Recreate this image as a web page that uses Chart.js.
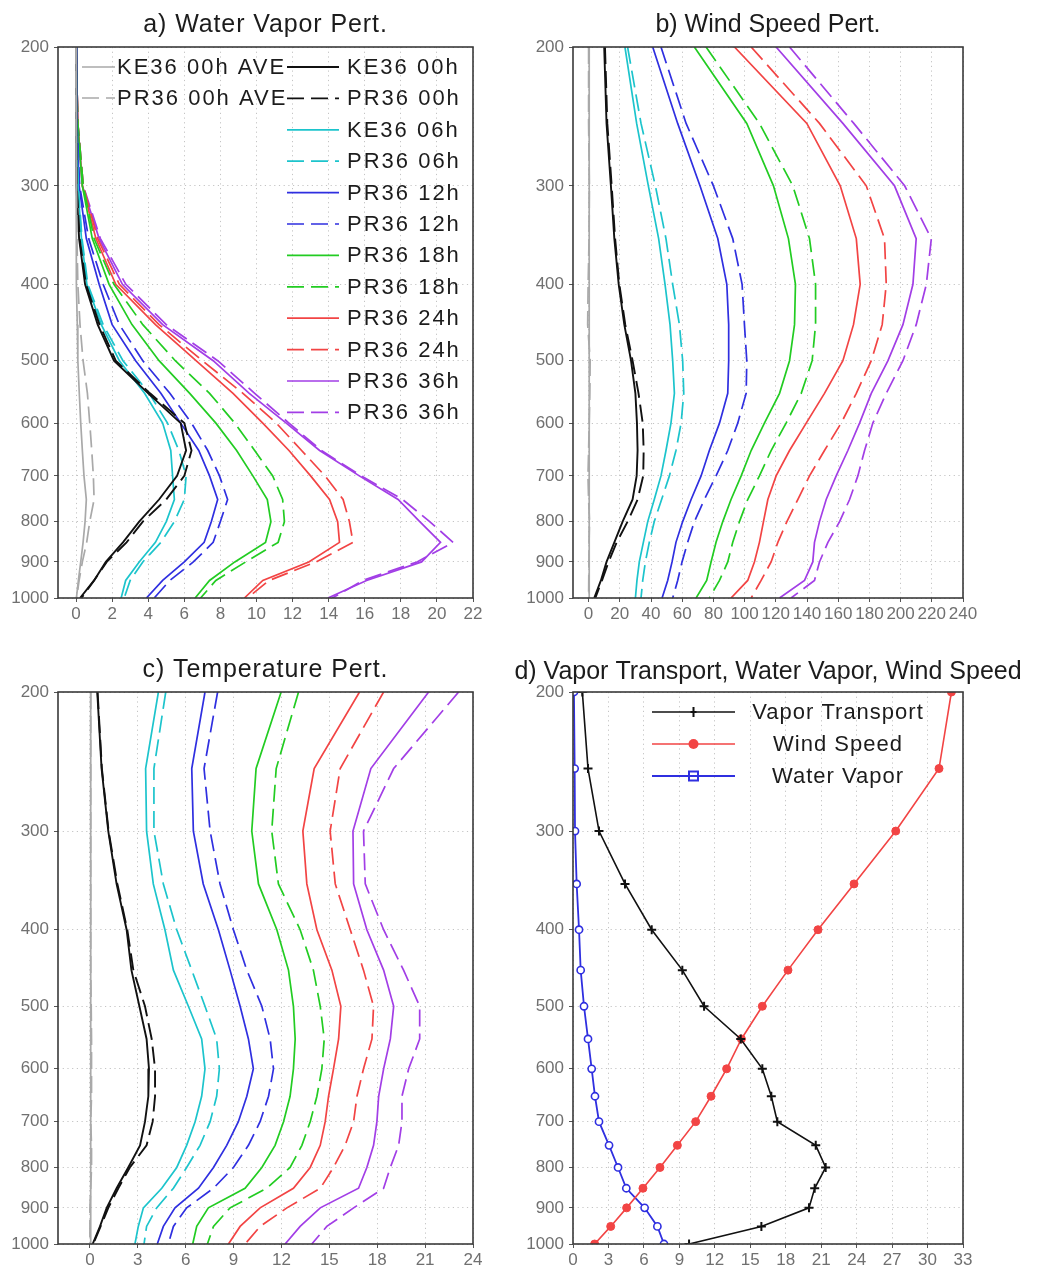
<!DOCTYPE html>
<html>
<head>
<meta charset="utf-8">
<script src="https://cdn.jsdelivr.net/npm/chart.js@4/dist/chart.umd.min.js"></script>
<style>
  html, body { margin: 0; padding: 0; background: #fff; }
  #wrap { position: relative; width: 1057px; height: 1270px; overflow: hidden; }
  canvas { position: absolute; }
</style>
</head>
<body>
<div id="wrap">
  <canvas id="cA" width="500" height="640" style="left:0px;top:0px;width:500px;height:640px"></canvas>
  <canvas id="cB" width="557" height="640" style="left:500px;top:0px;width:557px;height:640px"></canvas>
  <canvas id="cC" width="500" height="630" style="left:0px;top:640px;width:500px;height:630px"></canvas>
  <canvas id="cD" width="557" height="630" style="left:500px;top:640px;width:557px;height:630px"></canvas>
</div>
<script>
// ---------------- DATA ----------------
const levels = [200,250,300,350,400,450,500,550,600,650,700,750,800,850,900,950,1000];
const pressureTicks = [200,300,400,500,600,700,800,900,1000];
const xTicksA = [0,2,4,6,8,10,12,14,16,18,20,22];
const xTicksB = [0,20,40,60,80,100,120,140,160,180,200,220,240];
const xTicksC = [0,3,6,9,12,15,18,21,24];
const xTicksD = [0,3,6,9,12,15,18,21,24,27,30,33];

const seriesLabels = ['KE36 00h AVE','PR36 00h AVE','KE36 00h','PR36 00h','KE36 06h','PR36 06h',
  'PR36 12h','PR36 12h','PR36 18h','PR36 18h','PR36 24h','PR36 24h','PR36 36h','PR36 36h'];

// a) Water Vapor Pert.
const wvKE00ave = [0,0,0.01,0.02,0.04,0.07,0.1,0.18,0.26,0.35,0.44,0.57,0.5,0.39,0.26,0.13,0.02];
const wvPR00ave = [0,0,0.02,0.05,0.1,0.22,0.39,0.63,0.76,0.87,0.96,1.0,0.76,0.59,0.35,0.17,0.03];
const wvKE00 = [0,0.01,0.03,0.17,0.5,1.2,2.1,4.0,5.8,6.1,5.6,4.6,3.5,2.6,1.65,1.0,0.22];
const wvPR00 = [0,0.01,0.04,0.2,0.55,1.3,2.2,4.1,6.0,6.4,6.0,5.0,3.7,2.8,1.7,1.0,0.3];
const wvKE06 = [0,0.02,0.1,0.3,0.6,1.4,2.4,3.8,4.8,5.25,5.35,5.45,5.0,4.4,3.5,2.75,2.5];
const wvPR06 = [0,0.03,0.12,0.33,0.65,1.5,2.6,4.05,5.07,5.7,6.1,6.0,5.45,4.7,3.7,3.0,2.67];
const wvPR12a = [0,0.05,0.17,0.57,1.28,2.0,3.3,4.7,5.8,6.8,7.4,7.85,7.5,7.1,6.0,4.8,3.9];
const wvPR12b = [0,0.05,0.2,0.7,1.5,2.4,3.7,5.2,6.4,7.3,7.95,8.4,8.0,7.6,6.5,5.2,4.33];
const wvPR18a = [0,0.08,0.35,0.9,1.83,3.1,4.6,6.3,7.75,8.9,9.8,10.6,10.8,10.5,8.8,7.4,6.6];
const wvPR18b = [0,0.1,0.4,1.0,2.1,3.7,5.5,7.4,8.8,9.9,10.9,11.45,11.55,11.2,9.4,7.75,6.9];
const wvPR24a = [0,0.1,0.35,1.1,2.2,4.4,6.65,8.7,10.35,11.8,13.0,14.05,14.5,14.6,12.9,10.35,9.33];
const wvPR24b = [0,0.1,0.4,1.2,2.4,4.6,7.0,9.25,11.1,12.5,13.8,14.8,15.15,15.35,13.3,10.7,9.5];
const wvPR36a = [0,0.1,0.35,1.28,2.57,4.8,7.6,9.6,11.65,13.5,15.7,17.85,19.05,20.2,19.15,16.1,13.96];
const wvPR36b = [0,0.1,0.4,1.35,2.76,5.0,7.85,9.9,11.8,13.6,15.8,18.1,19.6,20.9,18.9,15.9,14.2];

// b) Wind Speed Pert.
const wsKE00ave = [0.4,0.4,0.4,0.4,0.4,0.4,0.4,0.4,0.4,0.4,0.4,0.4,0.4,0.4,0.4,0.4,0.4];
const wsPR00ave = [0,0,0.5,0.3,-0.3,-0.6,1.0,0.8,0.4,0,-0.4,0,0.6,0.3,0.2,0.1,0];
const wsKE00 = [10,11.5,14.3,16.5,19.3,22.9,27.2,30,31,31.4,30.8,28.2,21.8,16.5,11.5,7.9,3.6];
const wsPR00 = [10.5,12,14.8,17,19.7,23.5,28.2,32,34.7,35.3,35,31.4,25,18,12.8,8.6,4.3];
const wsKE06 = [23.3,30.8,38.3,44.9,49,52.2,53.9,55,52.8,49.6,46.4,42.1,37.9,35.1,32.5,31,30];
const wsPR06 = [25,33.6,42.8,49.6,53.9,58.2,60.3,61,59.3,56,51.8,46.8,42.1,38.9,36.4,34.7,33.6];
const wsPR12a = [41.1,57.1,71.4,82.8,88.6,89.8,89.8,89.2,83.9,77.4,72.1,65.7,60.3,56,53.5,50.7,47.1];
const wsPR12b = [46.4,62.5,80,92.4,98.4,99.9,101.4,101,95.6,89.2,81.7,74.2,67.8,63.5,59.9,57.1,53.9];
const wsPR18a = [67.8,101.4,118.5,128.1,132.6,132,128.8,122.4,112.7,104.2,97.8,91.3,86,81.7,78.5,75.7,68.9];
const wsPR18b = [75.3,109.5,130.9,141.6,145.5,145.5,143.3,136.3,126.6,117,109.5,102,96.7,92.4,89.2,83.9,77.4];
const wsPR24a = [93.5,139.9,161.3,171.6,174.1,169.8,163,151.2,139.5,128.8,120.2,114.9,112.1,109.5,106.3,102,91.3];
const wsPR24b = [104.2,148,178,189.7,190.8,188.2,181.2,171.6,161.9,151.2,141.6,134.1,127.1,121.3,117,110.6,104.2];
const wsPR36a = [120.2,163,196.1,210,207.9,201.5,191.9,181.2,173.7,166.2,158.7,152.3,148,144.8,143.7,138.4,122.4];
const wsPR36b = [128.8,170,202.6,219.7,216.5,210,201.5,190.8,182.2,176.9,172.6,167.3,160.9,153.4,148,144.8,129.8];

// c) Temperature Pert.
const tKE00ave = [0.05,0.05,0.05,0.05,0.05,0.05,0.05,0.05,0.05,0.05,0.05,0.05,0.05,0.05,0.05,0.05,0.05];
const tPR00ave = [0.05,0.05,0.05,0.05,0.05,0.05,0.08,0.1,0.1,0.1,0.05,0.1,0.1,0.05,0,0,0];
const tKE00 = [0.46,0.73,1.15,1.67,2.3,2.6,3.1,3.55,3.7,3.66,3.45,3.14,2.4,1.67,1.05,0.63,0.17];
const tPR00 = [0.48,0.75,1.17,1.72,2.34,2.72,3.45,3.87,4.08,4.08,3.93,3.55,2.5,1.78,1.15,0.67,0.21];
const tKE06 = [4.29,3.49,3.55,3.97,4.7,5.23,6.17,7.0,7.21,7.0,6.59,6.06,5.44,4.5,3.35,3.03,2.82];
const tPR06 = [4.75,4.01,4.01,4.6,5.44,6.38,7.21,7.94,8.11,7.94,7.53,6.9,6.06,5.23,4.18,3.55,3.39];
const tPR12a = [7.21,6.38,6.48,7.1,8.05,8.78,9.41,9.93,10.24,9.83,9.3,8.57,7.74,6.8,5.33,4.6,4.22];
const tPR12b = [8.0,7.15,7.53,8.15,8.99,9.83,10.77,11.29,11.5,11.19,10.66,9.93,8.99,7.74,6.06,5.23,4.91];
const tPR18a = [11.98,10.41,10.14,10.56,11.71,12.44,12.75,12.86,12.75,12.54,12.13,11.6,10.77,9.72,7.42,6.69,6.44];
const tPR18b = [13.07,11.67,11.39,11.81,13.17,14.0,14.43,14.68,14.53,14.22,13.8,13.28,12.54,11.08,8.78,7.74,7.36];
const tPR24a = [16.89,14.05,13.34,13.59,14.22,15.16,15.72,15.58,15.26,14.95,14.74,14.43,13.8,12.75,10.66,9.41,8.68];
const tPR24b = [18.4,15.68,15.05,15.37,16.31,17.14,17.77,17.67,17.14,16.73,16.52,15.99,15.26,14.43,12.34,10.66,9.72];
const tPR36a = [21.22,17.6,16.48,16.52,17.35,18.4,19.03,18.82,18.4,18.09,17.98,17.77,17.35,16.83,14.43,13.17,12.23];
const tPR36b = [23.1,19.03,17.14,17.25,18.4,19.65,20.66,20.66,19.97,19.55,19.55,19.34,18.82,18.4,16.52,14.84,13.9];

// d) Vapor Transport, Water Vapor, Wind Speed
const vaporTransport = [0.79,1.27,2.2,4.4,6.66,9.25,11.09,14.19,16.02,16.78,17.29,20.54,21.38,20.45,19.97,15.94,9.82];
const windSpeed = [32.02,30.97,27.31,23.78,20.73,18.19,16.02,14.25,13.0,11.68,10.38,8.83,7.36,5.92,4.54,3.19,1.83];
const waterVapor = [0.08,0.14,0.17,0.31,0.51,0.65,0.93,1.27,1.58,1.86,2.2,3.05,3.81,4.51,6.06,7.14,7.7];

// ---------------- STYLE ----------------
const GRAY = '#a9a9a9', BLACK = '#111111', CYAN = '#1cc4cc', BLUE = '#2f2fe0',
      GREEN = '#22cc22', RED = '#f24444', PURPLE = '#a23ee6';
const seriesColors = [GRAY, GRAY, BLACK, BLACK, CYAN, CYAN, BLUE, BLUE, GREEN, GREEN, RED, RED, PURPLE, PURPLE];
const DASH = [17, 7];
const TICK_FONT = { family: '"Liberation Sans", Arial, sans-serif', size: 17 };
const TICK_COLOR = '#707070';

function profile(vals, i) {
  const dashed = (i % 2) === 1;
  return {
    label: seriesLabels[i],
    data: levels.map((p, k) => ({ x: vals[k], y: p })),
    borderColor: seriesColors[i],
    borderWidth: (i === 2 || i === 3) ? 1.9 : 1.7,
    borderDash: dashed ? DASH : [],
    pointRadius: 0,
    fill: false,
    tension: 0
  };
}

const decoPlugin = {
  id: 'deco',
  afterDatasetsDraw(chart, args, o) {
    const ctx = chart.ctx, a = chart.chartArea;
    const canSpace = ('letterSpacing' in ctx);
    ctx.save();
    ctx.setLineDash([]);
    ctx.strokeStyle = '#3a3a3a';
    ctx.lineWidth = 1.6;
    ctx.strokeRect(a.left, a.top, a.right - a.left, a.bottom - a.top);
    // title
    ctx.fillStyle = '#1c1c1c';
    ctx.font = '25px "Liberation Sans", Arial, sans-serif';
    if (canSpace) ctx.letterSpacing = o.titleSpacing || '0px';
    ctx.textAlign = 'center';
    ctx.textBaseline = 'middle';
    ctx.fillText(o.title, (a.left + a.right) / 2, o.titleY);
    // legend
    if (o.legend) {
      const L = o.legend;
      ctx.font = L.font;
      if (canSpace) ctx.letterSpacing = L.spacing;
      L.items.forEach(it => {
        const ds = chart.data.datasets[it.ds];
        ctx.strokeStyle = ds.borderColor;
        ctx.lineWidth = ds.borderWidth;
        ctx.setLineDash(ds.borderDash || []);
        ctx.beginPath();
        ctx.moveTo(it.x1, it.y);
        ctx.lineTo(it.x2, it.y);
        ctx.stroke();
        ctx.setLineDash([]);
        if (it.marker) {
          const mx = (it.x1 + it.x2) / 2;
          ctx.lineWidth = 2;
          if (it.marker === 'cross') {
            ctx.beginPath();
            ctx.moveTo(mx, it.y - 5); ctx.lineTo(mx, it.y + 5);
            ctx.moveTo(mx - 3, it.y); ctx.lineTo(mx + 3, it.y);
            ctx.stroke();
          } else if (it.marker === 'dot') {
            ctx.fillStyle = ds.borderColor;
            ctx.beginPath(); ctx.arc(mx, it.y, 5, 0, Math.PI * 2); ctx.fill();
          } else if (it.marker === 'square') {
            ctx.fillStyle = '#fff';
            ctx.fillRect(mx - 4.5, it.y - 4.5, 9, 9);
            ctx.strokeRect(mx - 4.5, it.y - 4.5, 9, 9);
            ctx.beginPath(); ctx.moveTo(mx - 4.5, it.y); ctx.lineTo(mx + 4.5, it.y); ctx.stroke();
          }
        }
        ctx.fillStyle = '#1c1c1c';
        ctx.textAlign = it.align || 'left';
        ctx.fillText(ds.label, it.tx, it.y + 1);
      });
    }
    if (canSpace) ctx.letterSpacing = '0px';
    ctx.restore();
  }
};

function makeChart(id, datasets, xmin, xmax, xTicks, yWidth, pad, xHeight, deco) {
  return new Chart(document.getElementById(id), {
    type: 'line',
    data: { datasets },
    plugins: [decoPlugin],
    options: {
      responsive: false,
      animation: false,
      events: [],
      layout: { padding: pad },
      plugins: { legend: { display: false }, tooltip: { enabled: false }, deco },
      scales: {
        x: {
          type: 'linear', min: xmin, max: xmax,
          afterBuildTicks: s => { s.ticks = xTicks.map(v => ({ value: v })); },
          afterFit: s => { s.height = xHeight; },
          ticks: { font: TICK_FONT, color: TICK_COLOR, padding: 2, maxRotation: 0, autoSkip: false },
          grid: { color: '#c4c4c4', lineWidth: 1, tickColor: '#555', tickLength: 4, tickBorderDash: [] },
          border: { display: false, dash: [1.2, 3.5] }
        },
        y: {
          type: 'logarithmic', reverse: true, min: 200, max: 1000,
          afterBuildTicks: s => { s.ticks = pressureTicks.map(v => ({ value: v })); },
          afterFit: s => { s.width = yWidth; },
          ticks: { font: TICK_FONT, color: TICK_COLOR, padding: 5, autoSkip: false, callback: v => String(v) },
          grid: { color: '#c4c4c4', lineWidth: 1, tickColor: '#555', tickLength: 4, tickBorderDash: [] },
          border: { display: false, dash: [1.2, 3.5] }
        }
      }
    }
  });
}

// legend layout for panel a
const legendA = {
  font: '22px "Liberation Sans", Arial, sans-serif',
  spacing: '2px',
  items: [
    { ds: 0, x1: 82, x2: 115, tx: 117, y: 67 },
    { ds: 1, x1: 82, x2: 115, tx: 117, y: 98 }
  ].concat([2,3,4,5,6,7,8,9,10,11,12,13].map((d, k) => ({ ds: d, x1: 287, x2: 339, tx: 347, y: 67 + 31.4 * k })))
};

const dsA = [wvKE00ave, wvPR00ave, wvKE00, wvPR00, wvKE06, wvPR06, wvPR12a, wvPR12b, wvPR18a, wvPR18b, wvPR24a, wvPR24b, wvPR36a, wvPR36b].map(profile);
const dsB = [wsKE00ave, wsPR00ave, wsKE00, wsPR00, wsKE06, wsPR06, wsPR12a, wsPR12b, wsPR18a, wsPR18b, wsPR24a, wsPR24b, wsPR36a, wsPR36b].map(profile);
const dsC = [tKE00ave, tPR00ave, tKE00, tPR00, tKE06, tPR06, tPR12a, tPR12b, tPR18a, tPR18b, tPR24a, tPR24b, tPR36a, tPR36b].map(profile);

makeChart('cA', dsA, -1, 22, xTicksA, 58, { left: 0, top: 47, right: 27, bottom: 12 }, 30,
  { title: 'a) Water Vapor Pert.', titleY: 25, titleSpacing: '0.9px', legend: legendA });
makeChart('cB', dsB, -10, 240, xTicksB, 73, { left: 0, top: 47, right: 94, bottom: 12 }, 30,
  { title: 'b) Wind Speed Pert.', titleY: 25 });
makeChart('cC', dsC, -2, 24, xTicksC, 58, { left: 0, top: 52, right: 27, bottom: 2 }, 24,
  { title: 'c) Temperature Pert.', titleY: 30, titleSpacing: '0.9px' });

const dsD = [
  { label: 'Vapor Transport', data: levels.map((p, k) => ({ x: vaporTransport[k], y: p })),
    borderColor: '#111', borderWidth: 1.6, pointStyle: 'cross', pointRadius: 4.5, pointBorderWidth: 2,
    pointBorderColor: '#111', tension: 0, fill: false },
  { label: 'Wind Speed', data: levels.map((p, k) => ({ x: windSpeed[k], y: p })),
    borderColor: RED, borderWidth: 1.6, pointStyle: 'circle', pointRadius: 4, pointBorderWidth: 1,
    pointBackgroundColor: RED, pointBorderColor: RED, tension: 0, fill: false },
  { label: 'Water Vapor', data: levels.map((p, k) => ({ x: waterVapor[k], y: p })),
    borderColor: BLUE, borderWidth: 1.8, pointStyle: 'circle', pointRadius: 3.6, pointBorderWidth: 1.6,
    pointBackgroundColor: '#fff', pointBorderColor: BLUE, tension: 0, fill: false }
];
const legendD = {
  font: '22px "Liberation Sans", Arial, sans-serif',
  spacing: '1px',
  items: [
    { ds: 0, x1: 152, x2: 235, tx: 338, y: 72, align: 'center', marker: 'cross' },
    { ds: 1, x1: 152, x2: 235, tx: 338, y: 104, align: 'center', marker: 'dot' },
    { ds: 2, x1: 152, x2: 235, tx: 338, y: 136, align: 'center', marker: 'square' }
  ]
};
makeChart('cD', dsD, 0, 33, xTicksD, 73, { left: 0, top: 52, right: 94, bottom: 2 }, 24,
  { title: 'd) Vapor Transport, Water Vapor, Wind Speed', titleY: 32, legend: legendD });
</script>
</body>
</html>
